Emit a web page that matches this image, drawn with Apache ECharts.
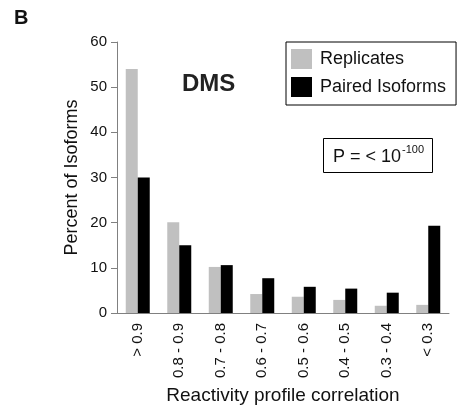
<!DOCTYPE html>
<html><head><meta charset="utf-8">
<script src="https://cdn.jsdelivr.net/npm/echarts@6/dist/echarts.min.js"></script>
<style>html,body{margin:0;padding:0;background:#fff}#c{width:457px;height:412px}</style>
</head><body><div id="c"></div>
<script>
const categories = ['> 0.9', '0.8 - 0.9', '0.7 - 0.8', '0.6 - 0.7', '0.5 - 0.6', '0.4 - 0.5', '0.3 - 0.4', '< 0.3'];
const replicates = [54, 20.1, 10.2, 4.2, 3.6, 2.9, 1.6, 1.8];
const pairedIsoforms = [30, 15, 10.6, 7.7, 5.8, 5.4, 4.5, 19.3];
const yTicks = [0, 10, 20, 30, 40, 50, 60];

const FONT = 'Liberation Sans, Arial, sans-serif';
const chart = echarts.init(document.getElementById('c'));
chart.setOption({
  animation: false,
  textStyle: { fontFamily: FONT },
  grid: { left: 117, right: 8, top: 42, bottom: 99, containLabel: false },
  legend: {
    orient: 'vertical', left: 286, top: 42,
    padding: [7, 10, 8, 5], itemGap: 8, itemWidth: 21, itemHeight: 20,
    borderColor: '#000', borderWidth: 1, backgroundColor: '#fff',
    textStyle: { fontSize: 18, color: '#111', fontFamily: FONT, padding: [0, 0, 0, 3] },
    data: [{ name: 'Replicates', icon: 'rect' }, { name: 'Paired Isoforms', icon: 'rect' }]
  },
  xAxis: {
    type: 'category', data: categories,
    axisLine: { lineStyle: { color: '#808080', width: 1 } },
    axisTick: { show: false },
    axisLabel: { rotate: 90, fontSize: 15, color: '#111', margin: 10, interval: 0, fontFamily: FONT },
    name: 'Reactivity profile correlation', nameLocation: 'middle', nameGap: 73, nameMoveOverlap: false,
    nameTextStyle: { fontSize: 19, color: '#111', fontFamily: FONT }
  },
  yAxis: {
    type: 'value', min: yTicks[0], max: yTicks[yTicks.length - 1], interval: 10,
    axisLine: { show: true, lineStyle: { color: '#808080', width: 1 } },
    axisTick: { show: true, length: 6, lineStyle: { color: '#808080' } },
    splitLine: { show: false },
    axisLabel: { fontSize: 15, color: '#111', margin: 10, fontFamily: FONT },
    name: 'Percent of Isoforms', nameLocation: 'middle', nameGap: 36, nameMoveOverlap: false,
    nameTextStyle: { fontSize: 18, color: '#111', fontFamily: FONT }
  },
  series: [
    { name: 'Replicates', type: 'bar', data: replicates, barWidth: 12, barGap: '0%',
      itemStyle: { color: '#c0c0c0' } },
    { name: 'Paired Isoforms', type: 'bar', data: pairedIsoforms, barWidth: 12,
      itemStyle: { color: '#000' } }
  ],
  graphic: [
    { type: 'text', left: 14, top: 8, style: { text: 'B', font: 'bold 20px ' + FONT, fill: '#111' } },
    { type: 'text', x: 182, y: 84, style: { text: 'DMS', font: 'bold 24px ' + FONT, fill: '#222', verticalAlign: 'middle' } },
    { type: 'rect', shape: { x: 323.5, y: 138.5, width: 109, height: 34 }, style: { fill: '#fff', stroke: '#000', lineWidth: 1 } },
    { type: 'text', x: 333, y: 157, style: { text: 'P = < 10', font: '18px ' + FONT, fill: '#111', verticalAlign: 'middle' } },
    { type: 'text', x: 402, y: 150, style: { text: '-100', font: '11px ' + FONT, fill: '#111', verticalAlign: 'middle' } }
  ]
});
</script></body></html>
